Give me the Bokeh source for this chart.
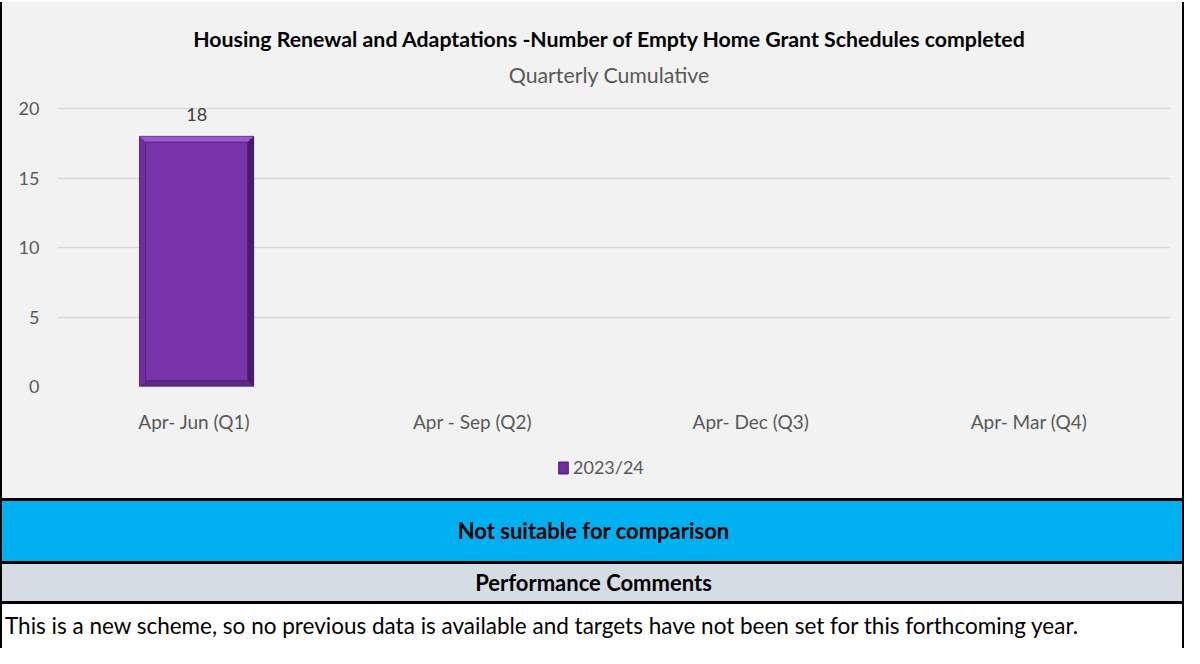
from bokeh.plotting import figure
from bokeh.layouts import column, row
from bokeh.models import Range1d, FixedTicker, Legend, LegendItem, ColumnDataSource, Div
from bokeh.embed import file_html
from bokeh.resources import INLINE
from bokeh.core.properties import value

# ---------------- data ----------------
categories = ["Apr- Jun  (Q1)", "Apr - Sep  (Q2)", "Apr- Dec  (Q3)", "Apr- Mar  (Q4)"]
values_2023_24 = [18, None, None, None]
series_name = "2023/24"
y_ticks = [0, 5, 10, 15, 20]
title_text = "Housing Renewal and Adaptations -Number of Empty Home Grant Schedules completed"
subtitle_text = "Quarterly Cumulative"
status_text = "Not suitable for comparison"
comments_header = "Performance Comments"
comment_text = ("This is a new scheme, so no previous data is available and targets "
                "have not been set for this forthcoming year.")

FONT = "Lato"
W_ALL = 1184
W = 1180
H_TITLE = 96
H_CHART = 350
H_LEG = 50
BG = "#F2F2F2"
AXIS_TXT = "#595959"
BAR_FILL = "#7030A0"
BAR_LINE = "#4B1C70"

# ---------------- title block ----------------
title_div = Div(
    text=(f'<div style="position:relative;width:{W}px;height:{H_TITLE}px;background-color:{BG};'
          f'font-family:{FONT};">'
          f'<div style="position:absolute;left:34px;width:{W - 34}px;top:23px;text-align:center;'
          f'font-size:21.3px;line-height:28px;font-weight:bold;color:#000000;white-space:nowrap;">'
          f'{title_text}</div>'
          f'<div style="position:absolute;left:34px;width:{W - 34}px;top:59px;text-align:center;'
          f'font-size:21.3px;line-height:28px;color:{AXIS_TXT};white-space:nowrap;">'
          f'{subtitle_text}</div></div>'),
    width=W, height=H_TITLE, margin=0)

# ---------------- chart ----------------
p = figure(width=W, height=H_CHART, x_range=Range1d(0, len(categories)), y_range=Range1d(0, 20.15),
           output_backend="svg", toolbar_location=None,
           min_border_left=55, min_border_right=12, min_border_top=8, min_border_bottom=62,
           background_fill_color=BG, border_fill_color=BG, outline_line_color=None)

xc = [i + 0.5 for i in range(len(categories))]
bar_w = 0.41
bx, by = 0.022, 0.42  # bevel sizes

rows = [(c, v) for c, v in zip(xc, values_2023_24) if v is not None]
src = ColumnDataSource(dict(
    left=[c - bar_w / 2 for c, v in rows], right=[c + bar_w / 2 for c, v in rows],
    top=[v for c, v in rows], bottom=[0 for c, v in rows],
    x=[c for c, v in rows], lab=[str(v) for c, v in rows]))

p.quad(left="left", right="right", top="top", bottom="bottom", source=src,
       fill_color=BAR_FILL, line_color=BAR_LINE, line_width=1)

for c, v in rows:
    x0, x1 = c - bar_w / 2, c + bar_w / 2
    p.patch([x0, x1, x1 - bx, x0 + bx], [v, v, v - by, v - by], fill_color="#9A5ACD", line_color=None)
    p.patch([x1, x1, x1 - bx, x1 - bx], [v, 0, by, v - by], fill_color="#4A1A6C", line_color=None)
    p.patch([x0, x1, x1 - bx, x0 + bx], [0, 0, by, by], fill_color="#5C2786", line_color=None)
    p.patch([x0, x0, x0 + bx, x0 + bx], [v, 0, by, v - by], fill_color="#6E2E9E", line_color=None)
    p.quad(left=x0 + bx, right=x1 - bx, top=v - by, bottom=by,
           fill_color="#7834A8", line_color="#55227E", line_width=1)

p.text(x="x", y="top", text="lab", source=src, text_align="center", text_baseline="alphabetic",
       y_offset=-22, text_font=value(FONT), text_font_size="18px", text_color="#404040")

p.xaxis.ticker = FixedTicker(ticks=xc)
p.xaxis.major_label_overrides = {x: lab for x, lab in zip(xc, categories)}
p.yaxis.ticker = FixedTicker(ticks=y_ticks)
for ax in (p.xaxis[0], p.yaxis[0]):
    ax.axis_line_color = None
    ax.major_tick_line_color = None
    ax.minor_tick_line_color = None
    ax.major_tick_out = 0
    ax.major_tick_in = 0
    ax.major_label_text_font = FONT
    ax.major_label_text_color = AXIS_TXT
p.xaxis.major_label_text_font_size = "19px"
p.yaxis.major_label_text_font_size = "18px"
p.xaxis.major_label_standoff = 23
p.yaxis.major_label_standoff = 18
p.xgrid.grid_line_color = None
p.ygrid.grid_line_color = "#D9D9D9"
p.ygrid.grid_line_width = 1.5
p.ygrid.ticker = FixedTicker(ticks=y_ticks)

# ---------------- legend strip ----------------
lg = figure(width=W, height=H_LEG, x_range=Range1d(0, 1), y_range=Range1d(0, 1),
            output_backend="svg", toolbar_location=None, min_border_left=55, min_border_right=12,
            min_border_top=0, min_border_bottom=0, x_axis_location=None, y_axis_location=None,
            background_fill_color=BG, border_fill_color=BG, outline_line_color=None)
lg.grid.visible = False
swatch = lg.quad(left="left", right="right", top="top", bottom="bottom", source=src,
                 fill_color=BAR_FILL, line_color=BAR_LINE, visible=False)
legend = Legend(items=[LegendItem(label=series_name, renderers=[swatch])], location=(500, 20),
                orientation="horizontal", padding=0, margin=0, spacing=0,
                glyph_width=12, glyph_height=15, label_standoff=4,
                label_text_font=FONT, label_text_font_size="18px", label_text_color=AXIS_TXT,
                background_fill_alpha=0, border_line_color=None, inactive_fill_alpha=0)
lg.add_layout(legend, "center")


def black(w, h):
    return Div(text=f'<div style="width:{w}px;height:{h}px;background-color:#000000;"></div>',
               width=w, height=h, margin=0)


def band(height, fill, text, bold=True, align="center", size="22px"):
    justify = "center" if align == "center" else "flex-start"
    html = (f'<div style="box-sizing:border-box;width:{W_ALL}px;height:{height}px;'
            f'border-top:3px solid #000000;border-left:2px solid #000000;border-right:2px solid #000000;'
            f'background-color:{fill};'
            f'display:flex;align-items:center;justify-content:{justify};padding-left:3px;'
            f'font-family:{FONT};font-size:{size};font-weight:{"bold" if bold else "normal"};'
            f'color:#000000;white-space:nowrap;overflow:hidden;">{text}</div>')
    return Div(text=html, width=W_ALL, height=height, margin=0)


H_MID = H_TITLE + H_CHART + H_LEG
inner = column(title_div, p, lg, spacing=0, styles={"background-color": BG})
chart_row = row(black(2, H_MID), inner, black(2, H_MID), spacing=0)
b1 = band(63, "#00B0F0", status_text)
b2 = band(40, "#D6DCE4", comments_header)
b3 = band(47, "#FFFFFF", comment_text, bold=False, align="left", size="22.5px")

layout = column(black(W_ALL, 2), chart_row, b1, b2, b3, spacing=0)

open("out.html", "w").write(file_html(layout, INLINE))
